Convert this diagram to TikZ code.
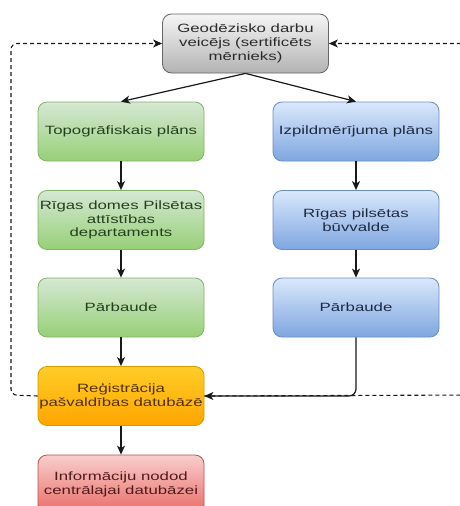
\documentclass[tikz,border=0pt]{standalone}
\usepackage{fontspec}
\setmainfont{Liberation Sans}[FakeStretch=1.4]
\usetikzlibrary{arrows.meta,positioning}
\definecolor{grT}{HTML}{F5F5F5}\definecolor{grB}{HTML}{B3B3B3}\definecolor{grS}{HTML}{666666}
\definecolor{gnT}{HTML}{D5E8D4}\definecolor{gnB}{HTML}{97D077}\definecolor{gnS}{HTML}{82B366}
\definecolor{blT}{HTML}{DAE8FC}\definecolor{blB}{HTML}{7EA6E0}\definecolor{blS}{HTML}{6C8EBF}
\definecolor{orT}{HTML}{FFCD28}\definecolor{orB}{HTML}{FFA500}\definecolor{orS}{HTML}{D79B00}
\definecolor{rdT}{HTML}{F8CECC}\definecolor{rdB}{HTML}{EA6B66}\definecolor{rdS}{HTML}{B85450}
\definecolor{gnF}{HTML}{26401F}\definecolor{blF}{HTML}{1E2A42}\definecolor{orF}{HTML}{4F3204}
\definecolor{rdF}{HTML}{4F1C1C}\definecolor{grF}{HTML}{2B2B2B}
\begin{document}
\begin{tikzpicture}[x=1pt,y=-1pt,
  box/.style={rounded corners=9pt,minimum width=166pt,minimum height=59pt,inner sep=0pt,
    align=center,font=\fontsize{12}{13.8}\selectfont,line width=0.8pt},
  graybox/.style={box,draw=grS,top color=grT,bottom color=grB,text=grF},
  greenbox/.style={box,draw=gnS,top color=gnT,bottom color=gnB,text=gnF},
  bluebox/.style={box,draw=blS,top color=blT,bottom color=blB,text=blF},
  orangebox/.style={box,draw=orS,top color=orT,bottom color=orB,text=orF},
  redbox/.style={box,draw=rdS,top color=rdT,bottom color=rdB,text=rdF},
  arr/.style={draw=black!90,line width=1.2pt,-{Stealth[length=9pt,width=8pt,inset=2.5pt]}},
  dash arr/.style={arr,line width=1.1pt,dash pattern=on 4pt off 3pt},
]
\useasboundingbox (0,0) rectangle (460,506);
\fill[white] (0,0) rectangle (460,506);
\clip (0,0) rectangle (460,506);

\node[graybox] (top) at (245.5,43.5) {Geodēzisko darbu\\veicējs (sertificēts\\mērnieks)};
\node[greenbox] (g1) at (121,131.5) {Topogrāfiskais plāns};
\node[greenbox] (g2) at (121,220) {Rīgas domes Pilsētas\\attīstības\\departaments};
\node[greenbox] (g3) at (121,307.5) {Pārbaude};
\node[bluebox] (b1) at (356,131.5) {Izpildmērījuma plāns};
\node[bluebox] (b2) at (356,220) {Rīgas pilsētas\\būvvalde};
\node[bluebox] (b3) at (356,307.5) {Pārbaude};
\node[orangebox] (or) at (121,396) {Reģistrācija\\pašvaldības datubāzē};
\node[redbox] (rd) at (121,484.5) {Informāciju nodod\\centrālajai datubāzei};

\coordinate (lcb) at (11,395);
\coordinate (lct) at (11,43.5);
\coordinate (rcb) at (478,395);
\coordinate (rct) at (478,43.5);

\draw[dash arr,rounded corners=6pt] (or.west) -- (lcb) -- (lct) -- (top.west);
\draw[dash arr,rounded corners=6pt] (or.east) -- (rcb) -- (rct) -- (top.east);

\draw[arr] (top.south) -- (g1.north);
\draw[arr] (top.south) -- (b1.north);
\draw[arr] (g1) -- (g2);
\draw[arr] (g2) -- (g3);
\draw[arr] (g3) -- (or);
\draw[arr] (b1) -- (b2);
\draw[arr] (b2) -- (b3);
\draw[arr,rounded corners=7pt] (b3.south) |- (or.east);
\draw[arr] (or) -- (rd);
\end{tikzpicture}
\end{document}
